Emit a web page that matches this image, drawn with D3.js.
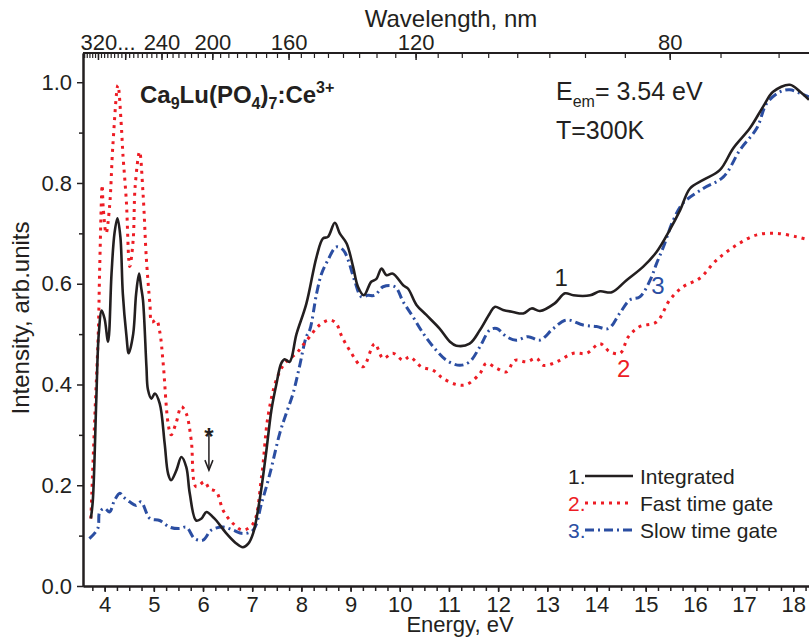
<!DOCTYPE html>
<html>
<head>
<meta charset="utf-8">
<script src="https://cdn.jsdelivr.net/npm/d3@7/dist/d3.min.js"></script>
<style>
body { margin: 0; background: #fff; }
svg { display: block; font-family: "Liberation Sans", Arial, sans-serif; }
</style>
</head>
<body>
<svg id="chart" width="809" height="637"></svg>
<script>
// energies (eV) and intensities
var integratedE = [3.72, 3.76, 3.83, 3.88, 3.94, 4.0, 4.07, 4.14, 4.2, 4.26, 4.32, 4.37, 4.44, 4.49, 4.58, 4.64, 4.70, 4.74, 4.78, 4.85, 4.88, 4.95, 5.02, 5.12, 5.22, 5.29, 5.35, 5.46, 5.56, 5.66, 5.73, 5.86, 5.97, 6.07, 6.2, 6.27, 6.47, 6.67, 6.81, 6.92, 7.02, 7.15, 7.29, 7.39, 7.49, 7.59, 7.66, 7.76, 7.9, 8.1, 8.31, 8.44, 8.54, 8.68, 8.78, 8.92, 9.05, 9.15, 9.27, 9.42, 9.52, 9.63, 9.73, 9.86, 10.07, 10.17, 10.34, 10.54, 10.81, 11.02, 11.15, 11.42, 11.63, 11.83, 11.93, 12.1, 12.3, 12.51, 12.68, 12.85, 13.15, 13.36, 13.53, 13.87, 14.07, 14.31, 14.61, 14.95, 15.22, 15.49, 15.70, 15.9, 16.17, 16.51, 16.78, 17.12, 17.39, 17.59, 17.93, 18.14, 18.32];
var integratedI = [0.134, 0.17, 0.369, 0.50, 0.547, 0.53, 0.485, 0.62, 0.70, 0.73, 0.693, 0.58, 0.50, 0.462, 0.50, 0.58, 0.62, 0.594, 0.567, 0.435, 0.39, 0.372, 0.382, 0.362, 0.283, 0.223, 0.21, 0.23, 0.256, 0.236, 0.184, 0.13, 0.134, 0.147, 0.137, 0.13, 0.105, 0.085, 0.077, 0.084, 0.105, 0.17, 0.27, 0.349, 0.40, 0.442, 0.45, 0.445, 0.50, 0.56, 0.654, 0.69, 0.693, 0.721, 0.70, 0.68, 0.634, 0.594, 0.577, 0.604, 0.609, 0.630, 0.617, 0.62, 0.597, 0.59, 0.558, 0.538, 0.511, 0.485, 0.477, 0.481, 0.508, 0.541, 0.554, 0.548, 0.544, 0.541, 0.551, 0.546, 0.561, 0.581, 0.577, 0.577, 0.585, 0.583, 0.607, 0.634, 0.663, 0.707, 0.746, 0.789, 0.806, 0.826, 0.869, 0.909, 0.952, 0.981, 0.995, 0.981, 0.965];

var fastE = [3.72, 3.80, 3.87, 3.9, 3.95, 3.97, 4.03, 4.1, 4.17, 4.27, 4.34, 4.37, 4.44, 4.51, 4.58, 4.62, 4.71, 4.78, 4.85, 4.92, 4.96, 5.05, 5.12, 5.19, 5.29, 5.35, 5.45, 5.56, 5.66, 5.76, 5.86, 6.03, 6.13, 6.27, 6.41, 6.61, 6.81, 7.02, 7.19, 7.32, 7.49, 7.66, 7.9, 8.03, 8.17, 8.37, 8.58, 8.71, 8.81, 8.98, 9.25, 9.49, 9.66, 9.86, 10.07, 10.2, 10.44, 10.68, 10.88, 11.15, 11.36, 11.63, 11.76, 11.97, 12.17, 12.34, 12.58, 12.78, 12.92, 13.19, 13.53, 13.8, 14.07, 14.27, 14.48, 14.65, 14.88, 15.22, 15.49, 15.76, 16.1, 16.44, 16.85, 17.26, 17.66, 18.07, 18.32];
var fastI = [0.134, 0.336, 0.50, 0.634, 0.796, 0.753, 0.70, 0.753, 0.879, 0.994, 0.912, 0.859, 0.766, 0.634, 0.687, 0.793, 0.862, 0.78, 0.647, 0.561, 0.524, 0.528, 0.505, 0.442, 0.323, 0.30, 0.323, 0.356, 0.342, 0.29, 0.197, 0.207, 0.193, 0.187, 0.150, 0.124, 0.111, 0.124, 0.217, 0.336, 0.409, 0.442, 0.462, 0.478, 0.495, 0.518, 0.528, 0.521, 0.498, 0.468, 0.435, 0.481, 0.452, 0.462, 0.448, 0.455, 0.435, 0.428, 0.412, 0.40, 0.40, 0.422, 0.442, 0.432, 0.425, 0.448, 0.445, 0.452, 0.438, 0.445, 0.462, 0.462, 0.481, 0.465, 0.462, 0.495, 0.515, 0.524, 0.568, 0.594, 0.611, 0.647, 0.677, 0.697, 0.70, 0.693, 0.687];

var slowE = [3.69, 3.86, 3.9, 4.0, 4.1, 4.2, 4.31, 4.38, 4.51, 4.64, 4.74, 4.92, 5.12, 5.32, 5.52, 5.66, 5.83, 6.0, 6.17, 6.41, 6.61, 6.81, 7.02, 7.19, 7.36, 7.56, 7.69, 7.83, 7.96, 8.1, 8.17, 8.31, 8.41, 8.54, 8.71, 8.85, 8.95, 9.08, 9.22, 9.35, 9.49, 9.66, 9.9, 10.07, 10.27, 10.48, 10.68, 10.95, 11.22, 11.42, 11.63, 11.83, 11.97, 12.17, 12.37, 12.61, 12.85, 13.12, 13.39, 13.73, 14.0, 14.24, 14.47, 14.68, 14.88, 15.09, 15.22, 15.36, 15.56, 15.76, 16.17, 16.58, 16.92, 17.26, 17.46, 17.73, 17.93, 18.14, 18.32];
var slowI = [0.094, 0.114, 0.147, 0.154, 0.147, 0.170, 0.184, 0.177, 0.167, 0.160, 0.167, 0.134, 0.130, 0.117, 0.114, 0.117, 0.094, 0.091, 0.111, 0.117, 0.111, 0.104, 0.111, 0.164, 0.223, 0.303, 0.342, 0.382, 0.435, 0.495, 0.508, 0.581, 0.62, 0.647, 0.673, 0.667, 0.647, 0.607, 0.574, 0.577, 0.577, 0.594, 0.594, 0.564, 0.534, 0.501, 0.475, 0.448, 0.438, 0.445, 0.475, 0.508, 0.511, 0.495, 0.488, 0.495, 0.488, 0.511, 0.528, 0.518, 0.515, 0.511, 0.541, 0.568, 0.574, 0.607, 0.64, 0.673, 0.726, 0.76, 0.789, 0.812, 0.866, 0.909, 0.958, 0.981, 0.985, 0.978, 0.971];

var energyTicks = [4, 5, 6, 7, 8, 9, 10, 11, 12, 13, 14, 15, 16, 17, 18];
var intensityTicks = [0.0, 0.2, 0.4, 0.6, 0.8, 1.0];
var wavelengthTicks = [320, 280, 240, 200, 160, 120, 80];
var wavelengthLabels = ["320...", "", "240", "200", "160", "120", "80"];
var legendNames = ["Integrated", "Fast time gate", "Slow time gate"];
var colors = ["#231f20", "#ed1c24", "#2b4ea2"];

var HC = 1239.84;
var svg = d3.select('#chart');
var x = d3.scaleLinear().domain([3.56, 18.32]).range([83, 809]);
var y = d3.scaleLinear().domain([0, 1.058]).range([586, 53]);

svg.append('clipPath').attr('id', 'plot')
    .append('rect').attr('x', 83).attr('y', 53).attr('width', 726).attr('height', 533);

function styleAxis(g) {
    g.select('.domain').attr('stroke', '#231f20').attr('stroke-width', 2);
    g.selectAll('.tick line').attr('stroke', '#231f20').attr('stroke-width', 1.5);
    g.selectAll('text').attr('fill', '#231f20').attr('font-size', 22);
}

// bottom axis, minor then major
svg.append('g').attr('transform', 'translate(0,586)')
    .call(d3.axisBottom(x).tickValues(d3.range(3.75, 18.3, 0.25)).tickSize(5).tickSizeOuter(0).tickFormat(''))
    .call(styleAxis);
svg.append('g').attr('transform', 'translate(0,586)')
    .call(d3.axisBottom(x).tickValues(energyTicks).tickSize(6).tickSizeOuter(0).tickPadding(4).tickFormat(d3.format('d')))
    .call(styleAxis)
    .attr('font-family', null);

// left axis
svg.append('g').attr('transform', 'translate(83,0)')
    .call(d3.axisLeft(y).tickValues([0.1, 0.3, 0.5, 0.7, 0.9]).tickSize(4).tickSizeOuter(0).tickFormat(''))
    .call(styleAxis);
svg.append('g').attr('transform', 'translate(83,0)')
    .call(d3.axisLeft(y).tickValues(intensityTicks).tickSize(6).tickSizeOuter(0).tickPadding(5).tickFormat(d3.format('.1f')))
    .call(styleAxis)
    .attr('font-family', null);

// top axis in wavelength, ticks pointing inward
var minorWl = d3.range(70, 350, 5);
var topG = svg.append('g').attr('transform', 'translate(0,53)');
topG.append('line').attr('x1', 83).attr('x2', 809).attr('stroke', '#231f20').attr('stroke-width', 2);
topG.selectAll('line.minor').data(minorWl).enter().append('line')
    .attr('class', 'minor')
    .attr('x1', function(d) { return x(HC / d); })
    .attr('x2', function(d) { return x(HC / d); })
    .attr('y1', 0).attr('y2', 5)
    .attr('stroke', '#231f20').attr('stroke-width', 1.2);
topG.selectAll('line.major').data(wavelengthTicks).enter().append('line')
    .attr('class', 'major')
    .attr('x1', function(d) { return x(HC / d); })
    .attr('x2', function(d) { return x(HC / d); })
    .attr('y1', 0).attr('y2', 7)
    .attr('stroke', '#231f20').attr('stroke-width', 1.5);
topG.selectAll('text').data(wavelengthTicks).enter().append('text')
    .attr('x', function(d, i) { return x(HC / d) - (i == 0 ? 18 : 0); })
    .attr('y', -3)
    .attr('text-anchor', function(d, i) { return i == 0 ? 'start' : 'middle'; })
    .attr('font-size', 22).attr('fill', '#231f20')
    .text(function(d, i) { return wavelengthLabels[i]; });

// axis titles
svg.append('text').attr('x', 451).attr('y', 27).attr('text-anchor', 'middle')
    .attr('font-size', 24).attr('fill', '#231f20').text('Wavelength, nm');
svg.append('text').attr('x', 460).attr('y', 632).attr('text-anchor', 'middle')
    .attr('font-size', 22).attr('fill', '#231f20').text('Energy, eV');
svg.append('text').attr('transform', 'translate(29,318) rotate(-90)').attr('text-anchor', 'middle')
    .attr('font-size', 24).attr('fill', '#231f20').text('Intensity, arb.units');

// curves
var line = d3.line()
    .x(function(d) { return x(d[0]); })
    .y(function(d) { return y(d[1]); })
    .curve(d3.curveCatmullRom.alpha(0.5));

var series = [
    { e: integratedE, v: integratedI, dash: null, width: 2.6 },
    { e: fastE, v: fastI, dash: '3,5', width: 3 },
    { e: slowE, v: slowI, dash: '9,4,2,4', width: 3 }
];
var plot = svg.append('g').attr('clip-path', 'url(#plot)');
// draw slow, fast, then integrated on top
[2, 1, 0].forEach(function(k) {
    var s = series[k];
    plot.append('path')
        .datum(d3.zip(s.e, s.v))
        .attr('d', line)
        .attr('fill', 'none')
        .attr('stroke', colors[k])
        .attr('stroke-width', s.width)
        .attr('stroke-dasharray', s.dash)
        .attr('stroke-linejoin', 'round');
});

// curve numbers
svg.append('text').attr('x', x(13.28)).attr('y', y(0.595)).attr('text-anchor', 'middle')
    .attr('font-size', 24).attr('fill', colors[0]).text('1');
svg.append('text').attr('x', x(14.55)).attr('y', y(0.415)).attr('text-anchor', 'middle')
    .attr('font-size', 24).attr('fill', colors[1]).text('2');
svg.append('text').attr('x', x(15.25)).attr('y', y(0.58)).attr('text-anchor', 'middle')
    .attr('font-size', 24).attr('fill', colors[2]).text('3');

// compound name
var title = svg.append('text').attr('x', 140).attr('y', 103)
    .attr('font-size', 24).attr('font-weight', 'bold').attr('fill', '#231f20');
title.append('tspan').text('Ca');
title.append('tspan').attr('font-size', 16).attr('dy', 6).text('9');
title.append('tspan').attr('dy', -6).text('Lu(PO');
title.append('tspan').attr('font-size', 16).attr('dy', 6).text('4');
title.append('tspan').attr('dy', -6).text(')');
title.append('tspan').attr('font-size', 16).attr('dy', 6).text('7');
title.append('tspan').attr('dy', -6).text(':Ce');
title.append('tspan').attr('font-size', 16).attr('dy', -10).text('3+');

// conditions
var eem = svg.append('text').attr('x', 556).attr('y', 100).attr('font-size', 25).attr('fill', '#231f20');
eem.append('tspan').text('E');
eem.append('tspan').attr('font-size', 16).attr('dy', 7).text('em');
eem.append('tspan').attr('dy', -7).text('= 3.54 eV');
svg.append('text').attr('x', 556).attr('y', 139).attr('font-size', 25).attr('fill', '#231f20').text('T=300K');

// asterisk and arrow
svg.append('text').attr('x', x(6.12)).attr('y', y(0.28)).attr('text-anchor', 'middle')
    .attr('font-size', 24).attr('font-weight', 'bold').attr('fill', '#231f20').text('*');
svg.append('line').attr('x1', x(6.12)).attr('x2', x(6.12)).attr('y1', y(0.305)).attr('y2', y(0.23))
    .attr('stroke', '#231f20').attr('stroke-width', 1.5);
svg.append('path')
    .attr('d', 'M' + (x(6.12) - 4) + ',' + (y(0.23) - 10) + 'L' + x(6.12) + ',' + y(0.23) + 'L' + (x(6.12) + 4) + ',' + (y(0.23) - 10))
    .attr('fill', 'none').attr('stroke', '#231f20').attr('stroke-width', 1.5);

// legend
var legend = svg.append('g').attr('font-size', 21);
legendNames.forEach(function(name, i) {
    var cy = 476 + i * 27;
    legend.append('text').attr('x', 568).attr('y', cy + 7.5).attr('fill', colors[i]).text((i + 1) + '.');
    legend.append('line').attr('x1', 585).attr('x2', 633).attr('y1', cy).attr('y2', cy)
        .attr('stroke', colors[i]).attr('stroke-width', series[i].width)
        .attr('stroke-dasharray', series[i].dash);
    legend.append('text').attr('x', 640).attr('y', cy + 7.5).attr('fill', '#231f20').text(name);
});
</script>
</body>
</html>
